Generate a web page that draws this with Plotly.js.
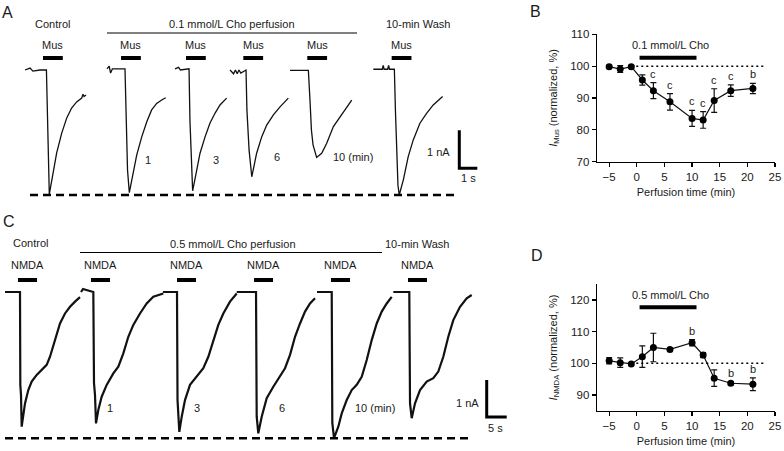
<!DOCTYPE html>
<html><head><meta charset="utf-8">
<script src="https://cdn.plot.ly/plotly-3.0.1.min.js"></script>
<style>html,body{margin:0;padding:0;background:#fff}#chart{width:784px;height:451px}</style>
</head><body><div id="chart"></div>
<script>
// ---------- Panel A: muscimol-evoked currents (time s from sweep start, current nA) ----------
const musControlT = [0, 0.28, 0.44, 0.83, 1.19, 1.25, 1.31, 1.35, 1.44, 1.57, 1.76, 2.04, 2.32, 2.59, 2.87, 3.15, 3.22, 3.28, 3.39];
const musControlI = [0, 0.05, -0.03, 0, 0, -1.05, -2.37, -3.27, -3.03, -2.71, -2.18, -1.66, -1.26, -1.0, -0.84, -0.74, -0.64, -0.7, -0.66];
const mus1T = [0, 0.12, 0.2, 0.3, 1.0, 1.06, 1.14, 1.24, 1.46, 1.65, 1.93, 2.21, 2.48, 2.76, 3.04, 3.26];
const mus1I = [0.03, 0.1, -0.08, 0.03, 0.03, -1.32, -2.63, -3.23, -2.72, -2.24, -1.76, -1.36, -1.05, -0.88, -0.79, -0.73];
const mus3T = [0, 0.2, 0.3, 0.78, 0.83, 0.92, 0.98, 1.21, 1.39, 1.67, 1.94, 2.22, 2.5, 2.87];
const mus3I = [0.03, 0.07, 0.0, 0.03, -1.32, -2.5, -3.18, -2.63, -2.19, -1.76, -1.40, -1.14, -0.92, -0.74];
const mus6T = [0, 0.2, 0.3, 0.4, 0.5, 0.6, 0.89, 0.94, 1.06, 1.21, 1.48, 1.76, 2.04, 2.41, 2.78, 3.24];
const mus6I = [0, -0.1, 0, -0.1, 0, -0.08, 0, -1.05, -2.11, -2.81, -2.19, -1.76, -1.45, -1.18, -0.97, -0.74];
const mus10T = [0, 1.02, 1.11, 1.19, 1.28, 1.48, 1.76, 2.04, 2.41, 2.78, 3.15, 3.43];
const mus10I = [-0.01, -0.01, -0.79, -1.58, -1.97, -2.30, -2.19, -1.93, -1.49, -1.23, -0.97, -0.79];
const musWashT = [0, 0.5, 0.55, 0.6, 0.8, 0.85, 0.9, 1.17, 1.23, 1.30, 1.37, 1.44, 1.67, 1.94, 2.22, 2.59, 2.96, 3.33, 3.85];
const musWashI = [0.02, 0.02, 0.12, 0.02, 0.02, 0.12, 0.02, 0.02, -1.07, -2.46, -3.03, -3.29, -2.89, -2.28, -1.84, -1.40, -1.14, -0.92, -0.70];
const musOnset = [1.0, 0.78, 0.61, 0.74, 0.96, 1.02];   // s, start of Mus application in each sweep
const musDuration = 1.1;                                 // s
const sweepLabelsA = ['', '1', '3', '6', '10 (min)', ''];

// ---------- Panel C: NMDA-evoked currents (time s from sweep start, current nA) ----------
const nmdaControlT = [0, 3.75, 3.83, 4.0, 4.17, 4.58, 5.0, 5.83, 6.67, 7.92, 9.17, 10.42, 11.25, 12.08, 12.92, 13.75, 15.0, 16.25, 17.5, 18.75];
const nmdaControlI = [0, 0, -2.51, -2.78, -3.64, -3.37, -3.01, -2.65, -2.42, -2.24, -2.11, -1.97, -1.75, -1.43, -1.16, -0.85, -0.58, -0.40, -0.26, -0.14];
const nmda1T = [0, 0.5, 3.08, 3.25, 3.5, 3.75, 4.33, 5.17, 6.42, 8.08, 9.33, 10.58, 11.83, 13.08, 14.75, 16.42, 18.08, 20.58];
const nmda1I = [0, 0.08, 0, -2.46, -2.78, -3.55, -3.19, -2.83, -2.51, -2.20, -2.02, -1.66, -1.21, -0.89, -0.58, -0.31, -0.13, -0.04];
const nmda3T = [0, 3.5, 3.63, 3.88, 4.08, 4.68, 5.5, 6.75, 8.43, 10.08, 11.33, 12.58, 13.83, 15.08, 16.75, 18.43];
const nmda3I = [0, 0, -2.92, -3.46, -3.78, -3.37, -2.92, -2.51, -2.29, -2.06, -1.75, -1.30, -0.89, -0.58, -0.26, -0.04];
const nmda6T = [0, 4.83, 5.0, 5.4, 6.25, 7.5, 9.15, 10.83, 12.08, 13.33, 14.58, 15.83, 17.08, 18.33, 19.58];
const nmda6I = [0, 0, -3.37, -3.82, -3.37, -2.87, -2.56, -2.29, -2.06, -1.70, -1.21, -0.85, -0.53, -0.31, -0.17];
const nmda10T = [0, 3.68, 3.83, 4.25, 5.33, 6.18, 7.43, 8.68, 9.93, 11.18, 12.43, 13.68, 14.93, 16.18, 17.43, 18.68];
const nmda10I = [0, 0, -3.54, -3.95, -3.64, -3.28, -2.92, -2.65, -2.51, -2.29, -1.84, -1.30, -0.85, -0.53, -0.31, -0.13];
const nmdaWashT = [0, 4.0, 4.18, 4.6, 5.43, 6.68, 8.35, 10.0, 11.25, 12.5, 13.75, 15.0, 16.68, 18.35, 19.6];
const nmdaWashI = [0, 0, -3.01, -3.41, -3.01, -2.65, -2.42, -2.33, -2.15, -1.75, -1.21, -0.76, -0.40, -0.17, -0.08];
const nmdaOnset = [3.25, 2.5, 3.5, 4.33, 3.5, 3.67];     // s
const nmdaDuration = 4.75;                               // s
const sweepLabelsC = ['', '1', '3', '6', '10 (min)', ''];

// ---------- Panel B / D: normalized currents ----------
const perfTime = [-5, -3, -1, 1, 3, 6, 10, 12, 14, 17, 21];
const musMean = [99.85, 99.1, 99.85, 95.65, 92.3, 88.8, 83.6, 83.1, 89.2, 92.3, 93.0];
const musErr  = [0.5, 1.1, 0.4, 1.6, 2.5, 2.6, 2.5, 2.6, 3.7, 1.8, 1.6];
const musSig  = ['', '', '', '', 'c', 'c', 'c', 'c', 'c', 'c', 'b'];
const nmdaMean = [100.8, 100.2, 99.8, 102.1, 105.0, 104.4, 106.5, 102.6, 95.3, 93.7, 93.4];
const nmdaErr  = [1.0, 1.5, 0.4, 3.4, 4.5, 0.4, 1.0, 0.8, 2.6, 0.5, 2.0];
const nmdaSig  = ['', '', '', '', '', '', 'b', '', '', 'b', 'b'];
const choWindow = [0.5, 10.8];   // min, drug application bar

// ---------- layout helpers ----------
const W = 784, H = 451;
const px = x => x / W, py = y => 1 - y / H;
const FONT = 'Liberation Sans, Arial, sans-serif';
const INK = '#1a1a1a';

// Panel A scale: 18 px per s, 38 px per nA, baseline at y=70 px
const aPxS = 18, aPxNA = 38, aBase = 70, aTop = 0, aBot = 210, aRight = 520;
const aStartPx = [25, 107, 175, 230, 290, 373.3];
// Panel C scale: 4 px per s, 37 px per nA, baseline at y=292 px
const cPxS = 4, cPxNA = 37, cBase = 292, cTop = 220, cBot = 451, cRight = 520;
const cStartPx = [5, 81, 163, 236.7, 317, 393.3];

const musSweeps = [[musControlT, musControlI], [mus1T, mus1I], [mus3T, mus3I], [mus6T, mus6I], [mus10T, mus10I], [musWashT, musWashI]];
const nmdaSweeps = [[nmdaControlT, nmdaControlI], [nmda1T, nmda1I], [nmda3T, nmda3I], [nmda6T, nmda6I], [nmda10T, nmda10I], [nmdaWashT, nmdaWashI]];

const data = [];
const shapes = [];
const ann = [];
const txt = (x, y, text, size, extra) => Object.assign({xref: 'paper', yref: 'paper', x: px(x), y: py(y), text, showarrow: false,
  font: {family: FONT, size: size || 11, color: INK}, xanchor: 'center', yanchor: 'middle'}, extra || {});

function sweepPanel(sweeps, startPx, pxS, xa, ya, width, onset, dur, barY, labY, agent, labels, labelPos) {
  let peak = 0;
  sweeps.forEach((s, k) => {
    const off = startPx[k] / pxS;
    data.push({type: 'scatter', mode: 'lines', x: s[0].map(v => v + off), y: s[1], xaxis: xa, yaxis: ya,
      line: {color: '#111', width: width}, hoverinfo: 'skip'});
    peak = Math.min(peak, ...s[1]);
    shapes.push({type: 'line', xref: xa, yref: 'paper', x0: off + onset[k], x1: off + onset[k] + dur, y0: py(barY), y1: py(barY),
      line: {color: '#000', width: 4}});
    ann.push({xref: xa, yref: 'paper', x: off + onset[k] + dur / 2, y: py(labY), text: agent, showarrow: false,
      font: {family: FONT, size: 11, color: INK}, xanchor: 'center', yanchor: 'middle'});
    if (labels[k]) ann.push(txt(labelPos[k][0], labelPos[k][1], labels[k], 11));
  });
  return peak;
}

const peakA = sweepPanel(musSweeps, aStartPx, aPxS, 'x', 'y', 1.3, musOnset, musDuration, 58, 45, 'Mus', sweepLabelsA,
  [null, [148, 160], [216, 160], [277, 157], [353, 157], null]);
const peakC = sweepPanel(nmdaSweeps, cStartPx, cPxS, 'x2', 'y2', 2.2, nmdaOnset, nmdaDuration, 280, 265, 'NMDA', sweepLabelsC,
  [null, [110, 408], [197, 408], [282, 408], [375, 408], null]);

// dashed reference lines at the largest peak
shapes.push({type: 'line', xref: 'x', yref: 'y', x0: 30 / aPxS, x1: 457 / aPxS, y0: peakA, y1: peakA, line: {color: '#000', width: 2.5, dash: '8px,5px'}});
shapes.push({type: 'line', xref: 'x2', yref: 'y2', x0: 5 / cPxS, x1: 472 / cPxS, y0: peakC, y1: peakC, line: {color: '#000', width: 2.5, dash: '8px,5px'}});

// scale bars
const sbA = [459.3 / aPxS, -(168.3 - aBase) / aPxNA];
shapes.push({type: 'path', xref: 'x', yref: 'y', path: `M${sbA[0]},${sbA[1] + 1} L${sbA[0]},${sbA[1]} L${sbA[0] + 1},${sbA[1]}`, line: {color: '#000', width: 3}});
const sbC = [486.7 / cPxS, -(417 - cBase) / cPxNA];
shapes.push({type: 'path', xref: 'x2', yref: 'y2', path: `M${sbC[0]},${sbC[1] + 1} L${sbC[0]},${sbC[1]} L${sbC[0] + 5},${sbC[1]}`, line: {color: '#000', width: 3}});

// perfusion lines
shapes.push({type: 'line', xref: 'paper', yref: 'paper', x0: px(107), x1: px(357), y0: py(33), y1: py(33), line: {color: '#000', width: 1}});
shapes.push({type: 'line', xref: 'paper', yref: 'paper', x0: px(80), x1: px(382), y0: py(252.5), y1: py(252.5), line: {color: '#000', width: 1}});

// panel texts
ann.push(txt(8, 12, 'A', 16), txt(52, 24, 'Control'), txt(232, 24, '0.1 mmol/L Cho perfusion'), txt(418, 24, '10-min Wash'),
  txt(438, 152, '1 nA'), txt(468, 178, '1 s'));
ann.push(txt(9, 222, 'C', 16), txt(30, 243, 'Control'), txt(233, 244, '0.5 mmol/L Cho perfusion'), txt(417, 244, '10-min Wash'),
  txt(467, 403, '1 nA'), txt(495, 428, '5 s'));
ann.push(txt(535, 11, 'B', 16), txt(537, 255, 'D', 16));

// summary panels
function summary(mean, err, sig, xa, ya, barY, labY, label) {
  data.push({type: 'scatter', mode: 'lines+markers', x: perfTime, y: mean, xaxis: xa, yaxis: ya,
    line: {color: '#111', width: 1.2}, marker: {color: '#000', size: 7},
    error_y: {type: 'data', array: err, visible: true, color: '#111', thickness: 1.2, width: 3}, hoverinfo: 'skip'});
  sig.forEach((s, i) => { if (s) ann.push({xref: xa, yref: ya, x: perfTime[i], y: mean[i] + err[i], yshift: 9, text: s, showarrow: false,
    font: {family: FONT, size: 11, color: INK}, xanchor: 'center', yanchor: 'middle'}); });
  shapes.push({type: 'line', xref: xa, yref: ya, x0: -1, x1: 23, y0: 100, y1: 100, line: {color: '#000', width: 1.5, dash: '2px,3px'}});
  shapes.push({type: 'line', xref: xa, yref: ya, x0: choWindow[0], x1: choWindow[1], y0: barY, y1: barY, line: {color: '#000', width: 4}});
  ann.push({xref: xa, yref: ya, x: (choWindow[0] + choWindow[1]) / 2 + 0.4, y: labY, text: label, showarrow: false,
    font: {family: FONT, size: 11, color: INK}, xanchor: 'center', yanchor: 'middle'});
}
summary(musMean, musErr, musSig, 'x3', 'y3', 102.6, 106.5, '0.1 mmol/L Cho');
summary(nmdaMean, nmdaErr, nmdaSig, 'x4', 'y4', 117.7, 121.6, '0.5 mmol/L Cho');

const hidden = {visible: false, showgrid: false, zeroline: false, fixedrange: true};
const sumX = (anchor) => ({domain: [px(597), px(775)], range: [-7.2, 25], anchor, tickvals: [-5, 0, 5, 10, 15, 20, 25],
  ticks: 'outside', ticklen: 4, tickwidth: 1.2, tickcolor: '#000', showline: true, linecolor: '#000', linewidth: 1.3,
  showgrid: false, zeroline: false, tickfont: {family: FONT, size: 11.5, color: INK},
  title: {text: 'Perfusion time (min)', font: {family: FONT, size: 11, color: INK}, standoff: 6}});
const sumY = (anchor, dom, rng, tv, title) => ({domain: dom, range: rng, anchor, tickvals: tv,
  ticks: 'outside', ticklen: 4, tickwidth: 1.2, tickcolor: '#000', showline: true, linecolor: '#000', linewidth: 1.3,
  showgrid: false, zeroline: false, tickfont: {family: FONT, size: 11.5, color: INK},
  title: {text: title, font: {family: FONT, size: 11, color: INK}, standoff: 10}});

const layout = {
  width: W, height: H, margin: {l: 0, r: 0, t: 0, b: 0}, paper_bgcolor: '#fff', plot_bgcolor: 'rgba(0,0,0,0)', showlegend: false,
  xaxis: Object.assign({domain: [0, px(aRight)], range: [0, aRight / aPxS], anchor: 'y'}, hidden),
  yaxis: Object.assign({domain: [py(aBot), py(aTop)], range: [-(aBot - aBase) / aPxNA, (aBase - aTop) / aPxNA], anchor: 'x'}, hidden),
  xaxis2: Object.assign({domain: [0, px(cRight)], range: [0, cRight / cPxS], anchor: 'y2'}, hidden),
  yaxis2: Object.assign({domain: [py(cBot), py(cTop)], range: [-(cBot - cBase) / cPxNA, (cBase - cTop) / cPxNA], anchor: 'x2'}, hidden),
  xaxis3: sumX('y3'),
  yaxis3: sumY('x3', [py(161.7), py(34.3)], [70, 110], [70, 80, 90, 100, 110], '<i>I</i><sub>Mus</sub> (normalized, %)'),
  xaxis4: sumX('y4'),
  yaxis4: sumY('x4', [py(410.8), py(284.2)], [85, 125], [90, 100, 110, 120], '<i>I</i><sub>NMDA</sub> (normalized, %)'),
  shapes, annotations: ann
};
Plotly.newPlot('chart', data, layout, {staticPlot: true, displayModeBar: false});
</script></body></html>
